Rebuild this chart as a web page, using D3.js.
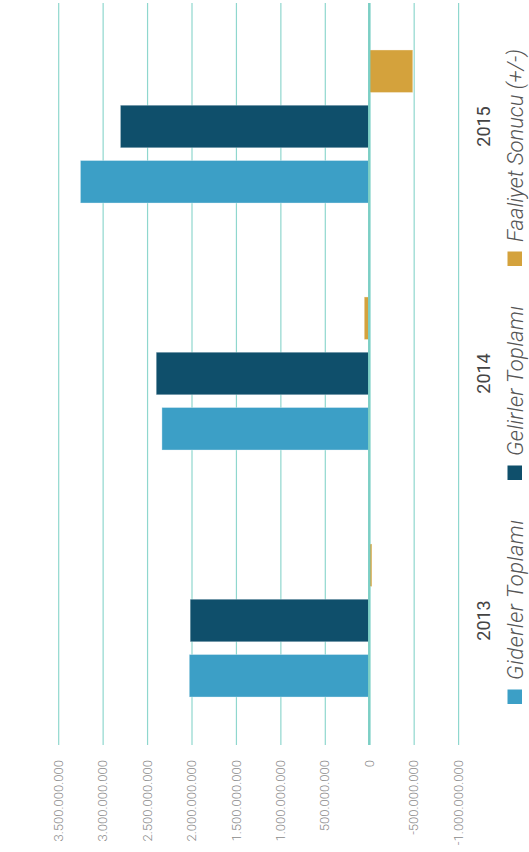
<!DOCTYPE html>
<html>
<head>
<meta charset="utf-8">
<script src="https://cdn.jsdelivr.net/npm/d3@7"></script>
<style>
  body { margin: 0; background: #fff; }
  text { font-family: Roboto, "Noto Sans", sans-serif; }
</style>
</head>
<body>
<div id="chart"></div>
<script>
// data
const years = ['2013', '2014', '2015'];
const giderler = [2.025e9, 2.333e9, 3.25e9];
const gelirler = [2.015e9, 2.397e9, 2.80e9];
const faaliyet = [-0.03e9, 0.056e9, -0.49e9];
const seriesNames = ['Giderler Toplamı', 'Gelirler Toplamı', 'Faaliyet Sonucu (+/-)'];
const seriesColors = ['#3c9fc6', '#0f4f6b', '#d4a23c'];
const tickVals = [-1e9, -5e8, 0, 5e8, 1e9, 1.5e9, 2e9, 2.5e9, 3e9, 3.5e9];

const allSeries = [giderler, gelirler, faaliyet];

// page is 529 x 852, chart is drawn upright (852 wide) then turned
const dimensions = {
    width: 852,
    height: 529,
};
// legend text widths as they look in the picture
const legendLen = [160, 150, 193];

const tr = d3.formatLocale({ decimal: ',', thousands: '.', grouping: [3], currency: ['', ''], minus: '-' });
const fmt = tr.format(',d');

const svg = d3.select('#chart').append('svg')
    .attr('width', dimensions.height)
    .attr('height', dimensions.width);

const bounds = svg.append('g')
    .attr('transform', `translate(0,${dimensions.width}) rotate(-90)`);

// scales
const yScale = d3.scaleLinear()
    .domain([-1e9, 3.5e9])
    .range([458.1, 58.2]);

const x0 = d3.scaleBand()
    .domain(years)
    .range([108, 849]);

const x1 = d3.scaleBand()
    .domain(seriesNames)
    .range([0, x0.bandwidth()])
    .paddingInner(0.23)
    .paddingOuter(0.85);

// grid
const yAxisGenerator = d3.axisLeft(yScale)
    .tickValues(tickVals)
    .tickSize(-742)
    .tickPadding(15)
    .tickFormat(fmt);

const yAxis = bounds.append('g')
    .attr('transform', 'translate(107,0)')
    .call(yAxisGenerator);

yAxis.select('.domain').remove();
yAxis.selectAll('.tick line')
    .attr('stroke', '#8fd7ce')
    .attr('stroke-width', 1.2);
yAxis.selectAll('.tick text')
    .attr('fill', '#8a8a8a')
    .style('font-size', '13px')
    .style('font-weight', 300);

// bars
const rows = years.map((y, i) => ({ year: y, values: allSeries.map((s, k) => ({ key: seriesNames[k], value: s[i], k })) }));

const groups = bounds.selectAll('.grp')
    .data(rows)
    .enter().append('g')
    .attr('transform', d => `translate(${x0(d.year)},0)`);

groups.selectAll('rect')
    .data(d => d.values)
    .enter().append('rect')
    .attr('x', d => x1(d.key))
    .attr('width', x1.bandwidth())
    .attr('y', d => yScale(Math.max(0, d.value)))
    .attr('height', d => Math.abs(yScale(d.value) - yScale(0)))
    .attr('fill', d => seriesColors[d.k])
    .attr('stroke', '#fff')
    .attr('stroke-opacity', 0.35)
    .attr('stroke-width', 1);

// zero line
bounds.append('line')
    .attr('x1', 107)
    .attr('x2', 849)
    .attr('y1', yScale(0))
    .attr('y2', yScale(0))
    .attr('stroke', '#7ccfc5')
    .attr('stroke-width', 2.4);

// category labels
bounds.selectAll('.cat')
    .data(years)
    .enter().append('text')
    .attr('x', d => x0(d) + x0.bandwidth() / 2)
    .attr('y', 483)
    .attr('text-anchor', 'middle')
    .attr('dominant-baseline', 'central')
    .attr('fill', '#444')
    .style('font-size', '18px')
    .text(d => d);

// legend
let lx = 148;
seriesNames.forEach((name, i) => {
    bounds.append('rect')
        .attr('x', lx)
        .attr('y', 507.5)
        .attr('width', 14.5)
        .attr('height', 14.5)
        .attr('fill', seriesColors[i]);
    bounds.append('text')
        .attr('x', lx + 24)
        .attr('y', 515)
        .attr('dominant-baseline', 'central')
        .attr('fill', '#555')
        .attr('textLength', legendLen[i])
        .attr('lengthAdjust', 'spacing')
        .style('font-size', '22px')
        .style('font-style', 'italic')
        .style('font-weight', 300)
        .text(name);
    lx = lx + 24 + legendLen[i] + 40;
});
</script>
</body>
</html>
